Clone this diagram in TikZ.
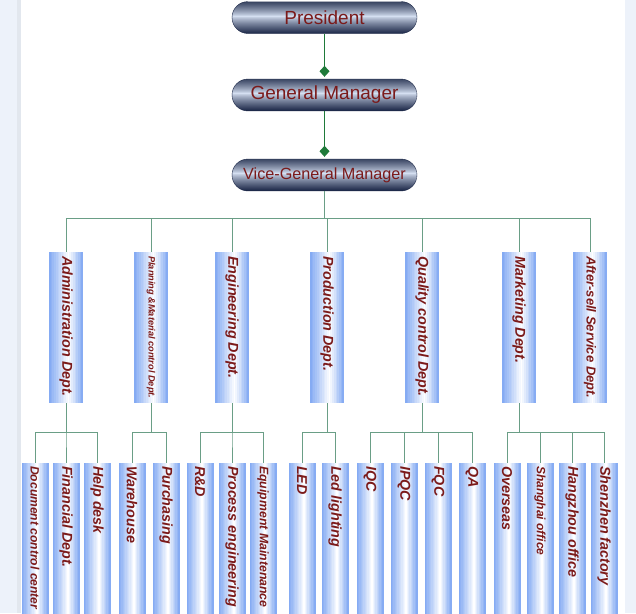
\documentclass[tikz,border=0pt]{standalone}
\usepackage{fontspec}
\setmainfont{Liberation Sans}
\usetikzlibrary{shapes.misc, arrows.meta}
\definecolor{pagecolor}{HTML}{EDF2FA}
\definecolor{edgecolor}{HTML}{E2E7EE}
\definecolor{textcolor}{HTML}{7B1A1A}
\definecolor{arrowcolor}{HTML}{1F7A3A}
\definecolor{linecolor}{HTML}{6A9E86}
\definecolor{boxcolor}{HTML}{7FA7F2}
\definecolor{captop}{HTML}{36425F}
\definecolor{caplight}{HTML}{D8E2F4}
\definecolor{capbottom}{HTML}{1B2747}
\newcommand{\fs}[1]{\fontsize{#1}{#1}\selectfont}
% blue tube behind a box: centre x, top, width, height
\newcommand{\tube}[4]{
	\foreach \i in {0, ..., 19}
	{
		\pgfmathsetmacro{\tpos}{(\i + 0.5)/20}
		\pgfmathsetmacro{\mix}{100*min(1, abs(\tpos - 0.58)/(\tpos < 0.58 ? 0.58 : 0.42))}
		\fill[boxcolor!\mix!white] ({#1 - #3/2 + \i*#3/20}, #2) rectangle ++({#3/20 + 0.3}, #4);
	}
}
% metal band inside a capsule
\newcommand{\capsule}{
	\foreach \i in {0, ..., 31}
	{
		\pgfmathsetmacro{\tpos}{(\i + 0.5)/32}
		\pgfmathsetmacro{\side}{\tpos < 0.45 ? 100 : 0}
		\pgfmathsetmacro{\mix}{100*pow(abs(\tpos - 0.45)/(\tpos < 0.45 ? 0.45 : 0.55), 0.8)}
		\fill[captop!\side!capbottom!\mix!caplight] ([yshift = {-\i*1pt}]path picture bounding box.north west)
			rectangle ([yshift = {-(\i + 1.3)*1pt}]path picture bounding box.north east);
	}
}

\begin{document}
\begin{tikzpicture}[x = 1pt, y = -1pt,
	boss/.style = {rounded rectangle, minimum width = 185, minimum height = 32, inner sep = 0,
		path picture = {\capsule}, draw = capbottom, thin, text = textcolor},
	dept/.style = {rectangle, rotate = -90, anchor = west, minimum width = 151, minimum height = 34,
		inner xsep = 4, inner ysep = 0, text = textcolor, font = \bfseries\itshape\fs{14.3}},
	leaf/.style = {dept, minimum width = 176, minimum height = 27, inner xsep = 3},
	topline/.style = {arrowcolor, line width = 1.4pt, -{Diamond[length = 11pt, width = 10pt]}, shorten > = 2pt},
	busline/.style = {linecolor, line width = 0.8pt}]
	\clip (0, 0) rectangle (636, 613);
	\fill[pagecolor] (0, 0) rectangle (636, 613);
	\fill[edgecolor] (17, 0) rectangle (21, 613);
	\fill[white] (21, 0) rectangle (625, 613);

	\node[boss, font = \fs{19}] (pres) at (324.5, 17.5) {President};
	\node[boss, font = \fs{19}] (gm) at (324.5, 95) {General Manager};
	\node[boss, font = \fs{16.2}] (vgm) at (324.5, 175) {Vice-General Manager};
	\draw[topline] (pres.south) -- (gm.north);
	\draw[topline] (gm.south) -- (vgm.north);

	\foreach \name/\x/\txt in {admin/66/{Administration Dept.}, plan/151/{\fs{9.2}Planning \&Material control Dept.},
		eng/232/{Engineering Dept.}, prod/327/{Production Dept.}, qc/422/{Quality control Dept.},
		mkt/519/{Marketing Dept.}, after/590/{\fs{13}After-sell Service Dept.}}
	{
		\tube{\x}{252}{34}{151}
		\node[dept] (\name) at (\x, 252) {\makebox[143pt][l]{\txt}};
		\draw[busline] (vgm.south) -- ++(0, 27) -| (\name.west);
	}

	\foreach \name/\x/\txt in {doc/35/{\fs{12.1}Document control center}, fin/66/{Financial Dept.}, help/97/{Help desk},
		ware/132/{Warehouse}, purch/166/{Purchasing},
		rnd/200/{R\&D}, proc/232/{Process engineering}, equip/263/{\fs{12.3}Equipment Maintenance},
		led/302/{LED}, ledl/335/{Led lighting},
		iqc/370/{IQC}, ipqc/404/{IPQC}, fqc/438/{FQC}, qa/472/{QA},
		over/507/{Overseas}, sh/540/{\fs{12}Shanghai office}, hz/572/{Hangzhou office}, sz/604/{Shenzhen factory}}
	{
		\tube{\x}{463}{27}{160}
		\node[leaf] (\name) at (\x, 463) {\makebox[170pt][l]{\txt}};
	}

	\foreach \up/\down in {admin/doc, admin/fin, admin/help, plan/ware, plan/purch,
		eng/rnd, eng/proc, eng/equip, prod/led, prod/ledl,
		qc/iqc, qc/ipqc, qc/fqc, qc/qa, mkt/over, mkt/sh, mkt/hz, mkt/sz}
		\draw[busline] (\up.east) -- ++(0, 29) -| (\down.west);
\end{tikzpicture}
\end{document}
